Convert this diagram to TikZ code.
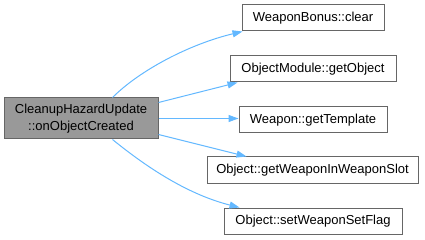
\documentclass[tikz,border=0pt]{standalone}
\usepackage{fontspec}
\setmainfont{Liberation Sans}
\usetikzlibrary{arrows.meta,calc}
\definecolor{edgeblue}{HTML}{63B8FF}
\definecolor{boxline}{HTML}{666666}
\definecolor{mainfill}{HTML}{999999}
\begin{document}
\begin{tikzpicture}[x=1pt,y=-1pt,
  fn/.style={draw=boxline, line width=1pt, fill=white, minimum height=26pt,
    inner sep=0pt, font=\fontsize{13}{15}\selectfont, anchor=center},
  mainfn/.style={fn, fill=mainfill, minimum height=41pt, align=center,
    font=\fontsize{13}{17}\selectfont},
  call/.style={draw=edgeblue, line width=1pt,
    -{Triangle[length=10pt,width=7pt]}}]
\useasboundingbox (0,0) rectangle (425,240);

% caller
\node[mainfn, minimum width=154pt] (src) at (81,118.5)
  {CleanupHazardUpdate\\::onObjectCreated};

% callees
\node[fn, minimum width=142pt] (n1) at (313,18)  {WeaponBonus::clear};
\node[fn, minimum width=166pt] (n2) at (313,69)  {ObjectModule::getObject};
\node[fn, minimum width=148pt] (n3) at (313,120) {Weapon::getTemplate};
\node[fn, minimum width=211pt] (n4) at (312.5,170) {Object::getWeaponInWeaponSlot};
\node[fn, minimum width=178pt] (n5) at (313,221) {Object::setWeaponSetFlag};

% call edges
\draw[call] ($(src.north west)+(109,0)$) .. controls (140,70) and (190,44) .. ($(n1.south west)+(1,0)$);
\draw[call] ($(src.north east)+(0,5)$) -- ($(n2.south west)+(8,0)$);
\draw[call] (src.east) -- (src.east -| n3.west);
\draw[call] ($(src.south east)+(0,-5)$) -- ($(n4.north west)+(40,0)$);
\draw[call] ($(src.south west)+(109,0)$) .. controls (150,170) and (190,195) .. ($(n5.north west)+(16,0)$);
\end{tikzpicture}
\end{document}
